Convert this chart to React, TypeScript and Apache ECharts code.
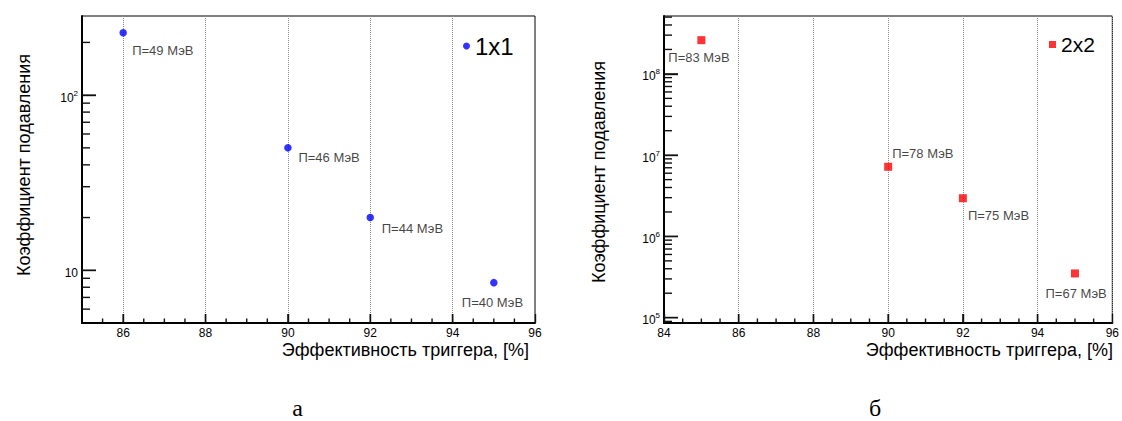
import React, { useEffect, useRef } from "react";
import * as echarts from "echarts";

// ---- data ----
const effA = [86, 90, 92, 95];
const supA = [227, 50, 20, 8.5];
const labelsA = ["П=49 МэВ", "П=46 МэВ", "П=44 МэВ", "П=40 МэВ"];

const effB = [85, 90, 92, 95];
const supB = [2.6e8, 7.2e6, 2.95e6, 3.5e5];
const labelsB = ["П=83 МэВ", "П=78 МэВ", "П=75 МэВ", "П=67 МэВ"];

const xRangeA = [85, 96];
const yRangeA = [5, 283];
const xRangeB = [84, 96];
const yRangeB = [8.6e4, 5.16e8];

// tick values
const xMajorA = [86, 88, 90, 92, 94, 96];
const xGridA = [86, 88, 90, 92, 94];
const xMinorA = [85.5, 86.5, 87, 87.5, 88.5, 89, 89.5, 90.5, 91, 91.5, 92.5, 93, 93.5, 94.5, 95, 95.5];
const xMajorB = [86, 88, 90, 92, 94];
const xMinorB = [84.5, 85, 85.5, 86.5, 87, 87.5, 88.5, 89, 89.5, 90.5, 91, 91.5, 92.5, 93, 93.5, 94.5, 95, 95.5];
const yMajorA = [10, 100];
const yMinorA = [6, 7, 8, 9, 20, 30, 40, 50, 60, 70, 80, 90, 200];
const yMajorB = [1e5, 1e6, 1e7, 1e8];
const yMinorB = [
  9e4, 2e5, 3e5, 4e5, 5e5, 6e5, 7e5, 8e5, 9e5, 2e6, 3e6, 4e6, 5e6, 6e6, 7e6,
  8e6, 9e6, 2e7, 3e7, 4e7, 5e7, 6e7, 7e7, 8e7, 9e7, 2e8, 3e8, 4e8, 5e8,
];

const legendA = "1x1";
const legendB = "2x2";
const xTitle = "Эффективность триггера, [%]";
const yTitle = "Коэффициент подавления";
const panelLetters = ["а", "б"];

// ---- styles ----
const FONT = '"Liberation Sans", Arial, Helvetica, sans-serif';
const SERIF = '"Liberation Serif", "Times New Roman", serif';
const labelOffA = [
  [9, 18],
  [10.5, 9.5],
  [11.5, 10.5],
  [-32, 20],
];
const labelOffB = [
  [-33, 17],
  [4, -13.5],
  [5, 17],
  [-29.5, 20],
];

const supFmt = (plainTen: boolean) => (v: number) => {
  const e = Math.round(Math.log10(v));
  if (e === 1 && plainTen) return "{b|10}";
  return `{b|10}{s|${e}}`;
};
const richSup = {
  b: { fontSize: 12, color: "#000", fontFamily: FONT, padding: [5, 0, 0, 0] },
  s: { fontSize: 8, color: "#000", fontFamily: FONT, padding: [0, 0, 4, 0] },
};

// custom series that draws ticks at given axis values through the axis scales
const TICK_W = 1.4;
const tickSeries = (
  axis: "x" | "y",
  values: number[],
  fixed: number,
  len: number,
  xIdx: number,
  yIdx: number
) => ({
  type: "custom",
  coordinateSystem: "cartesian2d",
  xAxisIndex: xIdx,
  yAxisIndex: yIdx,
  silent: true,
  clip: false,
  z: 20,
  data: values.map((v) => (axis === "x" ? [v, fixed] : [fixed, v])),
  renderItem: (_p: any, api: any) => {
    const pt = api.coord([api.value(0), api.value(1)]);
    const shape =
      axis === "x"
        ? { x: pt[0] - TICK_W / 2, y: pt[1] - len, width: TICK_W, height: len }
        : { x: pt[0], y: pt[1] - TICK_W / 2, width: len, height: TICK_W };
    return { type: "rect", shape, style: { fill: "#111" } };
  },
});

function App() {
  const ref = useRef<HTMLDivElement>(null);
  useEffect(() => {
    if (!ref.current) return;
    const chart = echarts.init(ref.current, undefined, { renderer: "svg" });

    const gridStyle = { show: true, borderColor: "#000", borderWidth: 1, backgroundColor: "transparent" };
    const axisLineStyle = { show: true, onZero: false, lineStyle: { color: "#000", width: 2 } };
    const dotted = { show: true, lineStyle: { color: "#8a8a8a", type: "dotted", width: 1 } };

    const mkData = (xs: number[], ys: number[], labels: string[], offs: number[][]) =>
      xs.map((x, i) => ({
        value: [x, ys[i]],
        label: {
          show: true,
          formatter: labels[i],
          position: "inside",
          align: "left",
          verticalAlign: "middle",
          offset: offs[i],
          fontSize: 13,
          color: "#111",
          fontFamily: FONT,
        },
      }));

    const option: any = {
      animation: false,
      textStyle: { fontFamily: FONT },
      grid: [
        { left: 82, top: 16, width: 453, height: 307, ...gridStyle },
        { left: 664, top: 16, width: 451, height: 307, ...gridStyle },
      ],
      xAxis: [
        {
          gridIndex: 0,
          type: "value",
          position: "bottom",
          min: xRangeA[0],
          max: xRangeA[1],
          axisLine: axisLineStyle,
          axisTick: { show: true, inside: true, length: 9, customValues: xMajorA, lineStyle: { color: "#111", width: 1.4 } },
          axisLabel: {
            show: true,
            margin: 4,
            fontSize: 12,
            color: "#000",
            customValues: xMajorA,
          },
          splitLine: { show: false },
        },
        {
          gridIndex: 0,
          type: "value",
          position: "bottom",
          min: xRangeA[0],
          max: xRangeA[1],
          axisLine: { show: false },
          axisTick: { show: false, customValues: xGridA },
          axisLabel: { show: false },
          splitLine: dotted,
        },
        {
          gridIndex: 1,
          type: "value",
          position: "bottom",
          min: xRangeB[0],
          max: xRangeB[1],
          interval: 2,
          axisLine: axisLineStyle,
          axisTick: { show: true, inside: true, length: 9, lineStyle: { color: "#111", width: 1.4 } },
          axisLabel: { show: true, margin: 4, fontSize: 12, color: "#000" },
          splitLine: dotted,
        },
      ],
      yAxis: [
        {
          gridIndex: 0,
          type: "log",
          logBase: 10,
          position: "left",
          min: yRangeA[0],
          max: yRangeA[1],
          axisLine: axisLineStyle,
          axisTick: { show: true, inside: true, length: 14, customValues: yMajorA, lineStyle: { color: "#111", width: 1.4 } },
          axisLabel: {
            show: true,
            margin: 4,
            customValues: yMajorA,
            formatter: supFmt(true),
            rich: richSup,
          },
          splitLine: { show: false },
        },
        {
          gridIndex: 1,
          type: "log",
          logBase: 10,
          position: "left",
          min: yRangeB[0],
          max: yRangeB[1],
          axisLine: axisLineStyle,
          axisTick: { show: true, inside: true, length: 14, customValues: yMajorB, lineStyle: { color: "#111", width: 1.4 } },
          axisLabel: {
            show: true,
            margin: 4,
            customValues: yMajorB,
            formatter: supFmt(false),
            rich: richSup,
          },
          splitLine: { show: false },
        },
      ],
      legend: [
        {
          data: [legendA],
          left: 463,
          top: 34,
          padding: 0,
          itemWidth: 7,
          itemHeight: 7,
          selectedMode: false,
          textStyle: { fontSize: 24, color: "#000", fontFamily: FONT },
        },
        {
          data: [legendB],
          left: 1049,
          top: 34,
          padding: 0,
          itemWidth: 7,
          itemHeight: 7,
          selectedMode: false,
          textStyle: { fontSize: 21, color: "#000", fontFamily: FONT },
        },
      ],
      series: [
        tickSeries("x", xMajorA.slice(0, 5), yRangeA[0], 9, 0, 0),
        tickSeries("x", xMinorA, yRangeA[0], 4.5, 0, 0),
        tickSeries("y", yMajorA, xRangeA[0], 14, 0, 0),
        tickSeries("y", yMinorA, xRangeA[0], 8, 0, 0),
        tickSeries("x", xMajorB, yRangeB[0], 9, 2, 1),
        tickSeries("x", xMinorB, yRangeB[0], 4.5, 2, 1),
        tickSeries("y", yMajorB, xRangeB[0], 14, 2, 1),
        tickSeries("y", yMinorB, xRangeB[0], 8, 2, 1),
        {
          name: legendA,
          type: "scatter",
          xAxisIndex: 0,
          yAxisIndex: 0,
          symbol: "circle",
          symbolSize: 7.5,
          z: 30,
          itemStyle: { color: "#0000ff" },
          data: mkData(effA, supA, labelsA, labelOffA),
        },
        {
          name: legendB,
          type: "scatter",
          xAxisIndex: 2,
          yAxisIndex: 1,
          symbol: "rect",
          symbolSize: 8,
          z: 30,
          itemStyle: { color: "#ff0000" },
          data: mkData(effB, supB, labelsB, labelOffB),
        },
      ],
      graphic: [
        {
          type: "text",
          x: 529,
          y: 350,
          style: { text: xTitle, fill: "#000", font: `18px ${FONT}`, align: "right", verticalAlign: "middle" },
        },
        {
          type: "text",
          x: 1113,
          y: 350,
          style: { text: xTitle, fill: "#000", font: `18px ${FONT}`, align: "right", verticalAlign: "middle" },
        },
        {
          type: "text",
          x: 24,
          y: 165,
          rotation: Math.PI / 2,
          style: { text: yTitle, fill: "#000", font: `18px ${FONT}`, align: "center", verticalAlign: "middle" },
        },
        {
          type: "text",
          x: 599,
          y: 172,
          rotation: Math.PI / 2,
          style: { text: yTitle, fill: "#000", font: `18px ${FONT}`, align: "center", verticalAlign: "middle" },
        },
        {
          type: "text",
          x: 297.5,
          y: 420,
          style: { text: panelLetters[0], fill: "#000", font: `24px ${SERIF}`, align: "center", verticalAlign: "bottom" },
        },
        {
          type: "text",
          x: 875,
          y: 420,
          style: { text: panelLetters[1], fill: "#000", font: `24px ${SERIF}`, align: "center", verticalAlign: "bottom" },
        },
      ],
    };

    chart.setOption(option);
    return () => chart.dispose();
  }, []);

  return (
    <div
      ref={ref}
      style={{ position: "absolute", left: 0, top: 0, width: 1122, height: 421, background: "#fff" }}
    />
  );
}

export default App;
